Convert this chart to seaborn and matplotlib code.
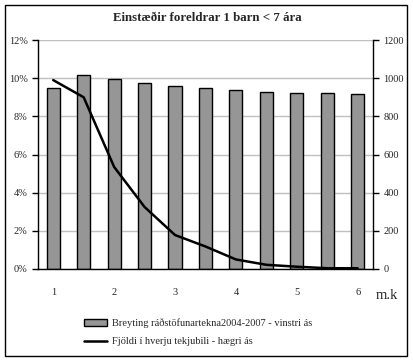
import matplotlib
matplotlib.use("Agg")
import matplotlib.pyplot as plt
import seaborn as sns
import pandas as pd
from matplotlib.patches import Patch, Rectangle
from matplotlib.lines import Line2D
from matplotlib.ticker import FuncFormatter

# data
categories = ["1", "1.5", "2", "2.5", "3", "3.5", "4", "4.5", "5", "5.5", "6"]
tick_labels = ["1", "", "2", "", "3", "", "4", "", "5", "", "6"]
breyting = [9.47, 10.17, 9.94, 9.73, 9.57, 9.47, 9.37, 9.30, 9.25, 9.20, 9.15]  # % (left axis)
fjoldi = [990, 900, 535, 325, 178, 118, 50, 22, 12, 4, 4]  # count (right axis)

df = pd.DataFrame({"mk": categories, "breyting": breyting, "fjoldi": fjoldi})
df["pos"] = range(len(df))

sns.set_style("white")
plt.rcParams["font.family"] = ["Liberation Serif", "DejaVu Serif"]

fig = plt.figure(figsize=(4.14, 3.64), dpi=100)
ax = fig.add_axes([0.0918, 0.261, 0.809, 0.629])

sns.barplot(data=df, x="mk", y="breyting", color="#969696", edgecolor="black",
            linewidth=1, width=0.43, saturation=1, ax=ax, zorder=2)
ax.set_ylim(0, 12)
ax.set_xlim(-0.5, len(df) - 0.5)
ax.set_yticks(range(0, 13, 2))
ax.yaxis.set_major_formatter(FuncFormatter(lambda v, p: f"{int(v)}%"))
ax.grid(axis="y", color="#c0c0c0", linewidth=1, zorder=0)
ax.set_axisbelow(True)
ax.set_xlabel("")
ax.set_ylabel("")

# ticks at category boundaries, labels at centers
ax.set_xticks([i - 0.5 for i in range(len(df) + 1)])
ax.set_xticklabels([])
ax.set_xticks(df["pos"], minor=True)
ax.set_xticklabels(tick_labels, minor=True)
ax.tick_params(axis="x", which="major", direction="inout", length=5, width=1, color="black")
ax.tick_params(axis="x", which="minor", length=0, pad=14, labelsize=7.5)
ax.tick_params(axis="y", direction="out", length=4, width=1, color="black", labelsize=7.5, left=True)

for s in ["left", "bottom"]:
    ax.spines[s].set_color("black")
    ax.spines[s].set_linewidth(1)
ax.spines["top"].set_visible(False)
ax.spines["right"].set_visible(False)

ax2 = ax.twinx()
sns.lineplot(data=df, x="pos", y="fjoldi", color="black", linewidth=1.8, ax=ax2, zorder=3)
ax2.set_ylim(0, 1200)
ax2.set_yticks(range(0, 1201, 200))
ax2.set_ylabel("")
ax2.set_xlabel("")
ax2.tick_params(axis="y", direction="out", length=4, width=1, color="black", labelsize=7.5, right=True)
ax2.spines["right"].set_color("black")
ax2.spines["right"].set_linewidth(1)
for s in ["top", "left", "bottom"]:
    ax2.spines[s].set_visible(False)
ax2.set_xlim(-0.5, len(df) - 0.5)

fig.text(0.5, 0.951, "Einstæðir foreldrar 1 barn < 7 ára", ha="center", va="center",
         fontsize=9.3, fontweight="bold")
fig.text(0.907, 0.188, "m.k", ha="left", va="center", fontsize=10.5)

handles = [Patch(facecolor="#969696", edgecolor="black", linewidth=1),
           Line2D([0], [0], color="black", linewidth=1.8)]
labels = ["Breyting ráðstöfunartekna2004-2007 - vinstri ás",
          "Fjöldi í hverju tekjubili - hægri ás"]
fig.legend(handles, labels, loc="upper left", bbox_to_anchor=(0.1925, 0.137),
           frameon=False, fontsize=7.5, handlelength=2.2, handleheight=0.6,
           labelspacing=0.9, handletextpad=0.5, borderaxespad=0)

fig.patches.append(Rectangle((0.0121, 0.022), 0.971, 0.964, transform=fig.transFigure,
                             fill=False, edgecolor="black", linewidth=1))

fig.savefig("out.png", dpi=100)
